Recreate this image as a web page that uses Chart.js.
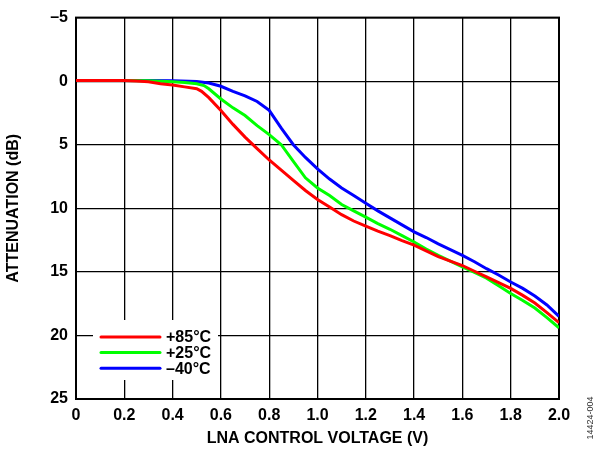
<!DOCTYPE html>
<html>
<head>
<meta charset="utf-8">
<script src="https://cdn.jsdelivr.net/npm/chart.js@4.4.1/dist/chart.umd.min.js"></script>
<style>
  html, body { margin: 0; padding: 0; background: #fff; }
  #wrap { position: relative; width: 596px; height: 454px; }
</style>
</head>
<body>
<div id="wrap"><canvas id="c" width="596" height="454"></canvas></div>
<script>
// ---- data ----
const seriesNames = ['+85°C', '+25°C', '\u201340°C'];
const seriesColors = ['#ff0000', '#00ff00', '#0000ff'];

const voltsHot = [0, 0.1, 0.2, 0.25, 0.3, 0.35, 0.4, 0.45, 0.5, 0.52, 0.55, 0.6, 0.65, 0.7, 0.75, 0.8, 0.85, 0.9, 0.95, 1.0, 1.05, 1.1, 1.15, 1.2, 1.25, 1.3, 1.35, 1.4, 1.45, 1.5, 1.55, 1.6, 1.65, 1.7, 1.75, 1.8, 1.85, 1.9, 1.95, 2.0];
const attenHot = [-0.05, -0.05, -0.05, -0.02, 0.05, 0.2, 0.3, 0.45, 0.6, 0.8, 1.3, 2.3, 3.4, 4.4, 5.3, 6.2, 7.0, 7.8, 8.6, 9.3, 9.9, 10.5, 11.0, 11.4, 11.8, 12.15, 12.55, 12.9, 13.35, 13.8, 14.15, 14.5, 14.95, 15.4, 15.85, 16.3, 16.85, 17.45, 18.2, 19.0];

const voltsRoom = [0, 0.1, 0.2, 0.3, 0.4, 0.45, 0.5, 0.53, 0.55, 0.6, 0.65, 0.7, 0.75, 0.8, 0.85, 0.9, 0.95, 1.0, 1.05, 1.1, 1.15, 1.2, 1.25, 1.3, 1.35, 1.4, 1.45, 1.5, 1.55, 1.6, 1.65, 1.7, 1.75, 1.8, 1.85, 1.9, 1.95, 2.0];
const attenRoom = [-0.05, -0.05, -0.05, -0.03, 0.05, 0.1, 0.2, 0.35, 0.6, 1.4, 2.1, 2.7, 3.5, 4.2, 5.0, 6.3, 7.6, 8.4, 9.0, 9.7, 10.2, 10.7, 11.2, 11.65, 12.15, 12.65, 13.2, 13.7, 14.15, 14.6, 15.05, 15.5, 16.1, 16.7, 17.25, 17.85, 18.6, 19.4];

const voltsCold = [0, 0.1, 0.2, 0.3, 0.4, 0.5, 0.55, 0.6, 0.65, 0.7, 0.75, 0.8, 0.85, 0.9, 0.95, 1.0, 1.05, 1.1, 1.15, 1.2, 1.25, 1.3, 1.35, 1.4, 1.45, 1.5, 1.55, 1.6, 1.65, 1.7, 1.75, 1.8, 1.85, 1.9, 1.95, 2.0];
const attenCold = [-0.05, -0.05, -0.05, -0.05, -0.03, 0.02, 0.15, 0.4, 0.8, 1.15, 1.6, 2.3, 3.7, 5.0, 6.0, 6.9, 7.7, 8.4, 9.0, 9.6, 10.2, 10.75, 11.3, 11.85, 12.3, 12.8, 13.25, 13.7, 14.2, 14.75, 15.25, 15.8, 16.3, 16.9, 17.6, 18.5];

const xTickLabels = ['0', '0.2', '0.4', '0.6', '0.8', '1.0', '1.2', '1.4', '1.6', '1.8', '2.0'];
const yTickLabels = ['\u20135', '0', '5', '10', '15', '20', '25'];
const xTitle = 'LNA CONTROL VOLTAGE (V)';
const yTitle = 'ATTENUATION (dB)';
const figureId = '14424-004';

// ---- build ----
function pts(xs, ys) { return xs.map((x, i) => ({ x: x, y: ys[i] })); }
const allX = [voltsHot, voltsRoom, voltsCold];
const allY = [attenHot, attenRoom, attenCold];

const FONT = "'Liberation Sans', Arial, sans-serif";

const datasets = seriesNames.map((n, i) => ({
  label: n,
  data: pts(allX[i], allY[i]),
  borderColor: seriesColors[i],
  backgroundColor: seriesColors[i],
  borderWidth: 3,
  pointRadius: 0,
  tension: 0,
  fill: false
}));

const framePlugin = {
  id: 'frame',
  beforeDatasetsDraw(chart) {
    const a = chart.chartArea, ctx = chart.ctx;
    ctx.save();
    ctx.strokeStyle = '#000';
    ctx.lineWidth = 2;
    ctx.strokeRect(a.left, a.top, a.right - a.left, a.bottom - a.top);
    ctx.restore();
  },
  afterDatasetsDraw(chart) {
    const ctx = chart.ctx;
    ctx.save();
    // legend box
    const bx = 93, by = 320, bw = 125, bh = 60;
    ctx.fillStyle = '#fff';
    ctx.fillRect(bx, by, bw, bh);
    ctx.font = 'bold 16px ' + FONT;
    ctx.textBaseline = 'middle';
    ctx.textAlign = 'left';
    seriesNames.forEach((n, i) => {
      const y = 337 + i * 15.6;
      ctx.strokeStyle = seriesColors[i];
      ctx.lineWidth = 3;
      ctx.lineCap = 'round';
      ctx.beginPath();
      ctx.moveTo(101, y);
      ctx.lineTo(160, y);
      ctx.stroke();
      ctx.fillStyle = '#000';
      ctx.fillText(n, 166, y + 1);
    });
    // figure id
    ctx.translate(591, 418);
    ctx.rotate(-Math.PI / 2);
    ctx.font = '9px ' + FONT;
    ctx.fillStyle = '#333';
    ctx.textAlign = 'center';
    ctx.fillText(figureId, 0, 0);
    ctx.restore();
  }
};

new Chart(document.getElementById('c'), {
  type: 'line',
  data: { datasets: datasets },
  options: {
    responsive: false,
    animation: false,
    devicePixelRatio: 1,
    layout: { padding: { top: 12, right: 37, bottom: 0, left: 0 } },
    plugins: { legend: { display: false }, tooltip: { enabled: false } },
    scales: {
      x: {
        type: 'linear',
        min: 0, max: 2,
        afterFit(s) { s.height = 55; },
        afterBuildTicks(s) { s.ticks = xTickLabels.map(t => ({ value: parseFloat(t) })); },
        ticks: {
          callback: (v, i) => xTickLabels[i],
          color: '#000',
          padding: 7,
          maxRotation: 0,
          font: { family: FONT, size: 16, weight: 'bold' }
        },
        grid: { color: '#000', lineWidth: 1.3, drawTicks: false },
        border: { display: false },
        title: {
          display: true, text: xTitle, color: '#000',
          font: { family: FONT, size: 16, weight: 'bold' },
          padding: { top: 0, bottom: 6 }
        }
      },
      y: {
        type: 'linear',
        reverse: true,
        min: -5, max: 25,
        afterFit(s) { s.width = 76; },
        afterBuildTicks(s) { s.ticks = yTickLabels.map(t => ({ value: parseFloat(t.replace('\u2013', '-')) })); },
        ticks: {
          callback: (v, i) => yTickLabels[i],
          color: '#000',
          padding: 8,
          font: { family: FONT, size: 16, weight: 'bold' }
        },
        grid: { color: '#000', lineWidth: 1.3, drawTicks: false },
        border: { display: false },
        title: {
          display: true, text: yTitle, color: '#000',
          font: { family: FONT, size: 16, weight: 'bold' },
          padding: { top: 4, bottom: 0 }
        }
      }
    }
  },
  plugins: [framePlugin]
});
</script>
</body>
</html>
